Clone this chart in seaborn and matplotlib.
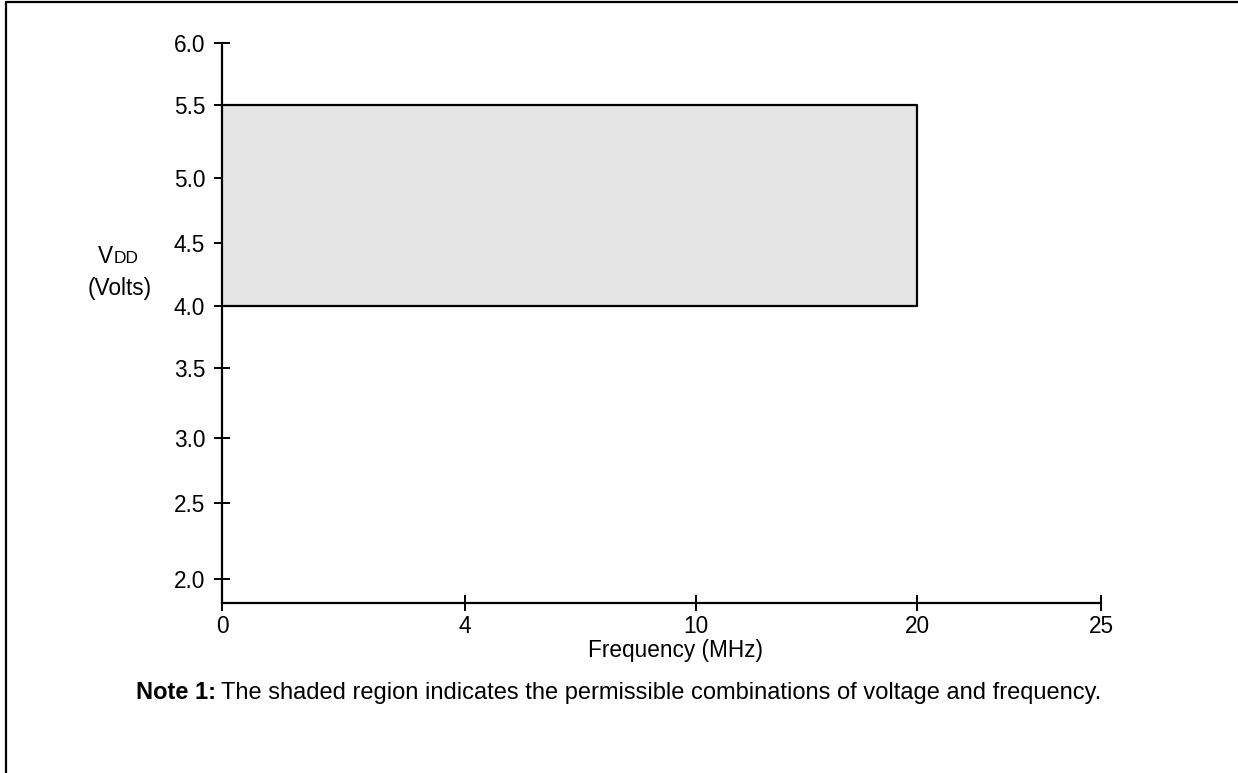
import numpy as np
import pandas as pd
import matplotlib
matplotlib.use("Agg")
import matplotlib.pyplot as plt
from matplotlib.lines import Line2D
import seaborn as sns

# ---- data ----
freq_ticks = [0, 4, 10, 20, 25]
volt_ticks = [2.0, 2.5, 3.0, 3.5, 4.0, 4.5, 5.0, 5.5, 6.0]
freq_min, freq_max = 0, 20          # MHz
volt_min, volt_max = 4.0, 5.5       # Volts

# ---- non-uniform axis scales (as drawn in the datasheet) ----
W, H = 1238, 773
ax_l, ax_r, ax_t, ax_b = 222, 1101, 43, 603
x_knots = [0, 4, 10, 20, 25]
x_pix = [222, 465, 696, 917, 1101]
y_knots = [1.842, 2.0, 2.5, 3.0, 3.5, 4.0, 4.5, 5.0, 5.5, 6.0]
y_pix = [603, 579, 503, 438, 368, 306, 243, 178, 105, 43]
x_frac = [(p - ax_l) / (ax_r - ax_l) for p in x_pix]
y_frac = [(ax_b - p) / (ax_b - ax_t) for p in y_pix]

def fx(v):
    return np.interp(v, x_knots, x_frac)
def fx_inv(v):
    return np.interp(v, x_frac, x_knots)
def fy(v):
    return np.interp(v, y_knots, y_frac)
def fy_inv(v):
    return np.interp(v, y_frac, y_knots)

sns.set_theme(style="ticks")
plt.rcParams["font.family"] = ["Liberation Sans", "DejaVu Sans"]

FS = 16.3

fig = plt.figure(figsize=(W / 100, H / 100), dpi=100)
ax = fig.add_axes([ax_l / W, 1 - ax_b / H, (ax_r - ax_l) / W, (ax_b - ax_t) / H])
ax.set_xscale("function", functions=(fx, fx_inv))
ax.set_yscale("function", functions=(fy, fy_inv))

# shaded operating region
ax.fill_between([freq_min, freq_max], volt_min, volt_max, color="#e4e4e4", lw=0, zorder=1)
outline = pd.DataFrame({
    "f": [freq_min, freq_max, freq_max, freq_min],
    "v": [volt_max, volt_max, volt_min, volt_min],
})
sns.lineplot(data=outline, x="f", y="v", sort=False, estimator=None,
             color="black", lw=1.6, ax=ax, zorder=3)

ax.set_xlim(0, 25)
ax.set_ylim(1.842, 6.0)
ax.set_xticks(freq_ticks)
ax.set_xticklabels([str(t) for t in freq_ticks])
ax.set_yticks(volt_ticks)
ax.set_yticklabels([f"{t:.1f}" for t in volt_ticks])
ax.minorticks_off()
ax.set_xlabel("")
ax.set_ylabel("")
for s in ["top", "right"]:
    ax.spines[s].set_visible(False)
for s in ["left", "bottom"]:
    ax.spines[s].set_linewidth(1.6)
    ax.spines[s].set_color("black")
    ax.spines[s].set_zorder(4)
ax.tick_params(axis="both", direction="inout", length=12, width=1.4,
               color="black", labelsize=FS, labelcolor="black")
ax.tick_params(axis="y", pad=6)
ax.tick_params(axis="x", pad=2.5)
ax.set_facecolor("white")
ax.patch.set_alpha(0)

# labels
fig.text(675 / W, 1 - 650 / H, "Frequency (MHz)", ha="center", va="center",
         fontsize=FS, color="black")
fig.text(113.5 / W, 1 - 263 / H, "V", ha="right", va="baseline", fontsize=FS, color="black")
fig.text(113.5 / W, 1 - 263 / H, "DD", ha="left", va="baseline", fontsize=12.5, color="black")
fig.text(120 / W, 1 - 295 / H, "(Volts)", ha="center", va="baseline", fontsize=FS, color="black")

note_y = 1 - 699 / H
t1 = fig.text(136 / W, note_y, "Note 1:", ha="left", va="baseline", fontsize=17,
              fontweight="bold", color="black")
fig.canvas.draw()
bb = t1.get_window_extent()
fig.text((bb.x1 + 5) / W, note_y,
         "The shaded region indicates the permissible combinations of voltage and frequency.",
         ha="left", va="baseline", fontsize=17, color="black")

# page frame (top and left edges)
fig.add_artist(Line2D([6 / W, 6 / W], [0, 1 - 2 / H], color="black", lw=1.6,
                      transform=fig.transFigure))
fig.add_artist(Line2D([6 / W, 1], [1 - 2 / H, 1 - 2 / H], color="black", lw=1.6,
                      transform=fig.transFigure))

fig.savefig("out.png", dpi=100, facecolor="white")
